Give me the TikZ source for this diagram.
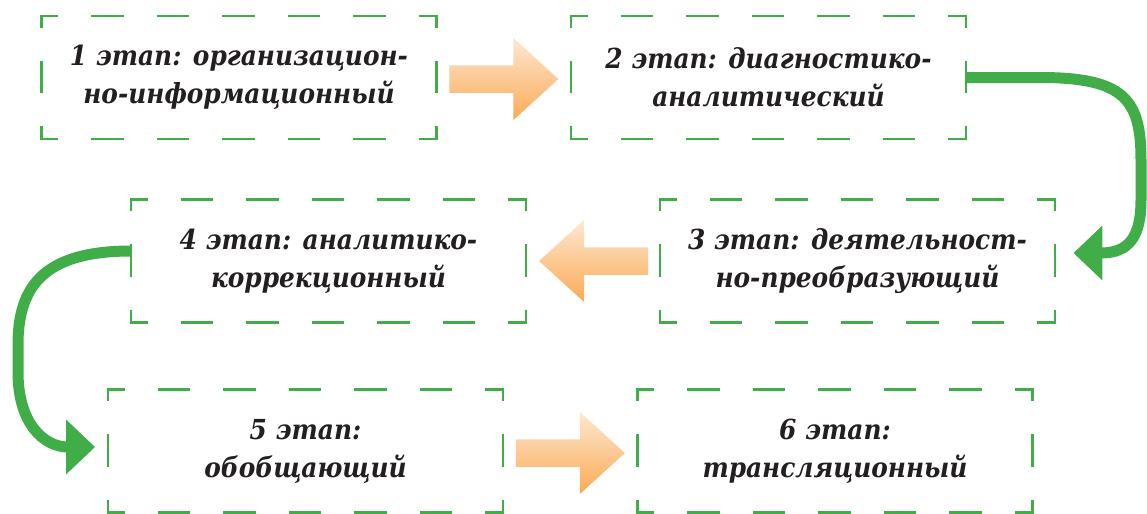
\documentclass[tikz,border=0pt]{standalone}
\usepackage{fontspec}
\setmainfont{DejaVu Serif Condensed}
\usetikzlibrary{arrows.meta,calc}
\definecolor{dgreen}{RGB}{65,173,73}
\definecolor{oLight}{RGB}{253,232,210}
\definecolor{oDark}{RGB}{251,170,85}
\definecolor{txt}{RGB}{35,31,32}
\tikzset{
  stage/.style={minimum width=197pt, minimum height=61pt, inner sep=0pt, align=center, text=txt,
    font=\bfseries\itshape\fontsize{13.8pt}{19pt}\selectfont},
  hside/.style={draw=dgreen, line width=1.3pt, dash pattern=on 16.25pt off 16.5pt, dash phase=7.225pt,
    shorten <=-0.65pt, shorten >=-0.65pt},
  vside/.style={draw=dgreen, line width=1.3pt, dash pattern=on 16.25pt off 16.5pt, dash phase=9.725pt,
    shorten <=-0.65pt, shorten >=-0.65pt},
  flow/.style={draw=dgreen, line width=5.5pt, -{Triangle[length=14.5pt,width=26.5pt]}},
  blockarrow/.style={top color=oLight, bottom color=oDark, draw=none},
}
\newcommand\dframe[1]{%
  \draw[hside] (#1.north west) -- (#1.north east);
  \draw[hside] (#1.south west) -- (#1.south east);
  \draw[vside] (#1.north west) -- (#1.south west);
  \draw[vside] (#1.north east) -- (#1.south east);}
\begin{document}
\begin{tikzpicture}[x=0.5pt,y=-0.5pt]
\useasboundingbox (0,0) rectangle (1147,514);
\node[stage] (b1) at (239,77.5) {1 этап: организацион-\\но-информационный};
\node[stage] (b2) at (768.5,77.5) {2 этап: диагностико-\\аналитический};
\node[stage] (b3) at (857.5,261) {3 этап: деятельност-\\но-преобразующий};
\node[stage] (b4) at (328.5,261) {4 этап: аналитико-\\коррекционный};
\node[stage] (b5) at (305.5,451) {5 этап:\\обобщающий};
\node[stage] (b6) at (835,451) {6 этап:\\трансляционный};
\foreach \b in {b1,b2,b3,b4,b5,b6}{\dframe{\b}}
% orange block arrows
\shade[blockarrow] ($(b1.east)+(13,-12.25)$) -- ++(64,0) -- ++(0,-27.25) -- ++(45,41) -- ++(-45,41)
  -- ++(0,-27.25) -- ++(-64,0) -- cycle;
\shade[blockarrow] ($(b3.west)+(-12,-13.75)$) -- ++(-64,0) -- ++(0,-27.25) -- ++(-45,41) -- ++(45,41)
  -- ++(0,-27.25) -- ++(64,0) -- cycle;
\shade[blockarrow] ($(b5.east)+(13,-11.75)$) -- ++(64,0) -- ++(0,-27.25) -- ++(45,41) -- ++(-45,41)
  -- ++(0,-27.25) -- ++(-64,0) -- cycle;
% green curved arrows
\coordinate (t1) at ($(b3.east)+(18.5,-8)$);
\coordinate (t2) at ($(b5.west)+(-13,-4)$);
\draw[flow] (b2.east) -- (1040,77.5) .. controls (1125,77.5) and (1141,100) .. (1141,160)
  -- (1141,200) .. controls (1141,238) and (1128,253) .. (t1);
\draw[flow] ($(b4.west)+(0,-10)$) .. controls (40,251) and (18,290) .. (18,345)
  -- (18,372) .. controls (18,425) and (45,447) .. (t2);
\end{tikzpicture}
\end{document}
